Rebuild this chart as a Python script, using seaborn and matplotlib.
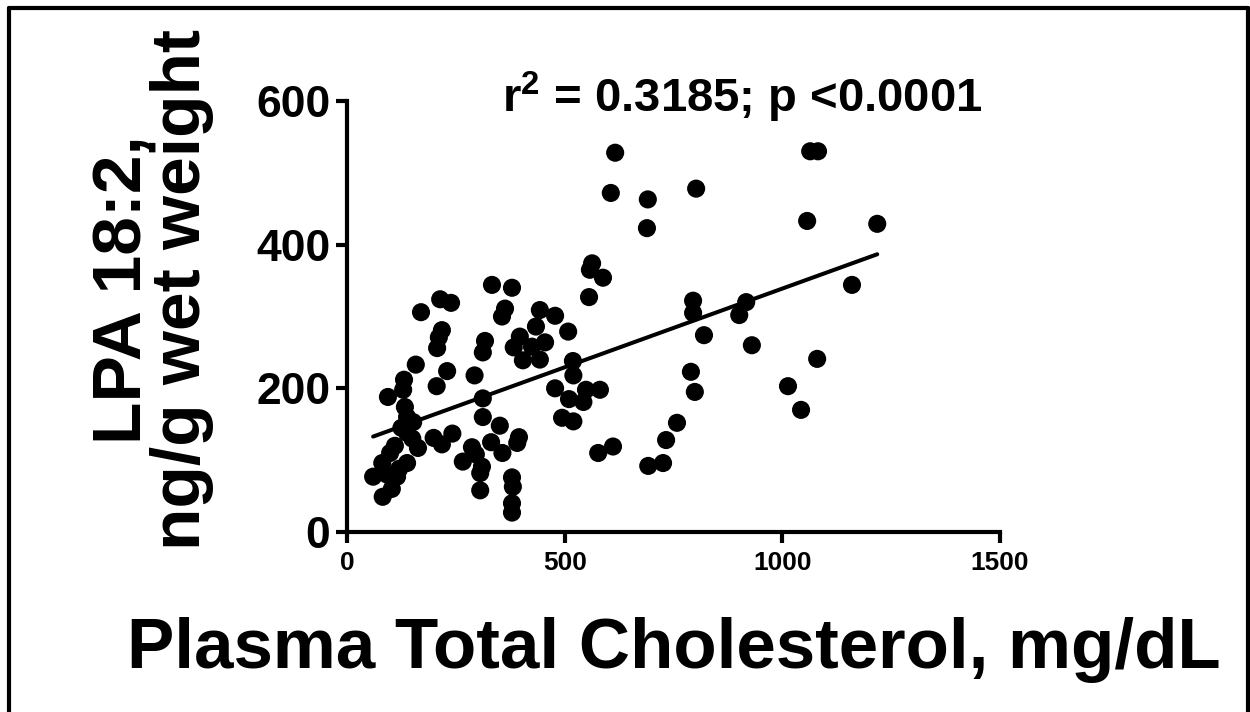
import numpy as np
import pandas as pd
import matplotlib
matplotlib.use("Agg")
import matplotlib.pyplot as plt
import seaborn as sns

cholesterol = [616, 606, 691, 689, 1064, 1082, 1057, 1218, 802, 1160,
               795, 795, 917, 901, 820, 930, 790, 799, 1080, 1013,
               1043, 758, 733, 692, 726, 563, 558, 588, 556, 333,
               379, 170, 214, 239, 363, 356, 443, 478, 434, 508,
               218, 211, 207, 317, 312, 397, 383, 455, 425, 404,
               443, 519, 520, 158, 230, 131, 206, 293, 94, 129,
               312, 312, 351, 395, 391, 478, 510, 549, 581, 543,
               494, 520, 577, 611, 133, 138, 152, 138, 163, 199,
               218, 242, 99, 81, 138, 60, 115, 103, 82, 287,
               266, 296, 331, 357, 310, 306, 306, 379, 381, 379,
               379, 125, 110, 92, 120, 150]
lpa = [528, 472, 463, 423, 530, 530, 433, 429, 478, 344,
       322, 305, 320, 302, 274, 260, 223, 195, 241, 203,
       170, 152, 128, 92, 96, 374, 365, 354, 327, 344,
       340, 306, 324, 319, 311, 300, 309, 301, 286, 279,
       281, 271, 256, 266, 250, 272, 257, 264, 258, 239,
       240, 238, 218, 233, 224, 212, 203, 218, 188, 198,
       186, 160, 148, 132, 124, 200, 185, 198, 198, 181,
       159, 154, 110, 119, 174, 160, 153, 138, 117, 131,
       122, 137, 110, 96, 96, 77, 77, 60, 49, 118,
       98, 108, 125, 110, 91, 82, 58, 76, 63, 40,
       27, 145, 120, 80, 88, 130]

x_ticks = [0, 500, 1000, 1500]
y_ticks = [0, 200, 400, 600]
x_label = "Plasma Total Cholesterol, mg/dL"
y_label = "LPA 18:2,\nng/g wet weight"
stat_text = "r$^{\\mathbf{2}}$ = 0.3185; p <0.0001"

df = pd.DataFrame({"chol": cholesterol, "lpa": lpa})

sns.set_style("white")
plt.rcParams["font.family"] = ["Liberation Sans", "DejaVu Sans"]
plt.rcParams["font.weight"] = "bold"
plt.rcParams["mathtext.fontset"] = "custom"
plt.rcParams["mathtext.bf"] = "Liberation Sans:bold"
plt.rcParams["mathtext.rm"] = "Liberation Sans:bold"
for key in ["text.color", "axes.labelcolor", "xtick.color", "ytick.color", "axes.edgecolor"]:
    plt.rcParams[key] = "black"

fig = plt.figure(figsize=(12.5, 7.12), dpi=100)
ax = fig.add_axes([347 / 1250, 1 - 532 / 712, 653 / 1250, 431 / 712])

sns.regplot(data=df, x="chol", y="lpa", ax=ax, ci=None, color="black",
            scatter_kws={"s": 170, "edgecolor": "none", "alpha": 1, "clip_on": False},
            line_kws={"lw": 2.9, "color": "black"})

ax.set_xlim(0, 1500)
ax.set_ylim(0, 600)
ax.set_xticks(x_ticks)
ax.set_yticks(y_ticks)
ax.set_xticklabels([str(v) for v in x_ticks], fontsize=19, fontweight="bold")
ax.set_yticklabels([str(v) for v in y_ticks], fontsize=32, fontweight="bold")
ax.set_xlabel("")
ax.set_ylabel("")
for side in ["top", "right"]:
    ax.spines[side].set_visible(False)
for side in ["left", "bottom"]:
    ax.spines[side].set_linewidth(3)
    ax.spines[side].set_color("black")
ax.tick_params(axis="both", direction="out", length=8, width=3, color="black",
               left=True, bottom=True)
ax.tick_params(axis="x", pad=6)
ax.tick_params(axis="y", pad=4)

fig.text(674 / 1250, 1 - 650 / 712, x_label, ha="center", va="center",
         fontsize=51, fontweight="bold")
fig.text(153 / 1250, 1 - 290 / 712, y_label, ha="center", va="center",
         rotation=90, fontsize=50, fontweight="bold", multialignment="center",
         linespacing=0.88)
fig.text(742 / 1250, 1 - 97 / 712, stat_text, ha="center", va="center",
         fontsize=34, fontweight="bold")

# outer frame (left, top, right)
lw = 3
fig.add_artist(plt.Line2D([8.5 / 1250, 8.5 / 1250], [0, 1 - 7.5 / 712],
                          transform=fig.transFigure, color="black", lw=lw))
fig.add_artist(plt.Line2D([8.5 / 1250, 1247.5 / 1250], [1 - 7.5 / 712, 1 - 7.5 / 712],
                          transform=fig.transFigure, color="black", lw=lw))
fig.add_artist(plt.Line2D([1247.5 / 1250, 1247.5 / 1250], [0, 1 - 7.5 / 712],
                          transform=fig.transFigure, color="black", lw=lw))

fig.savefig("out.png", dpi=100, facecolor="white")
